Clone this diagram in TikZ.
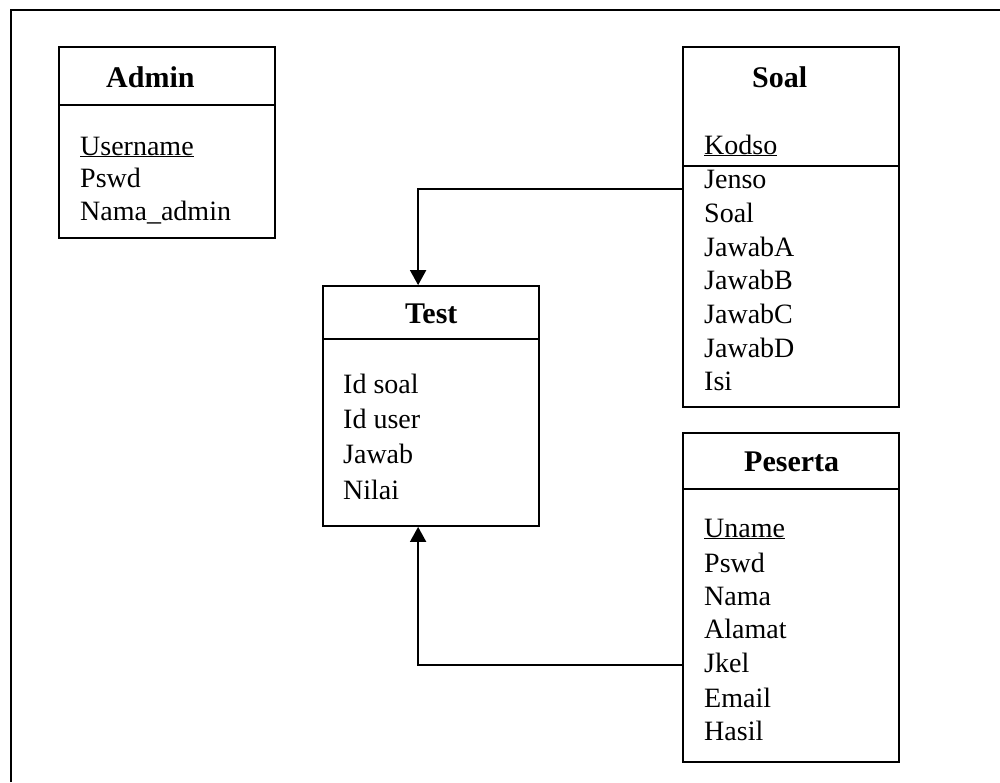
\documentclass[tikz,border=0pt]{standalone}
\usepackage{fontspec}
\setmainfont{Liberation Serif}
\usetikzlibrary{arrows.meta,calc}
\begin{document}
\begin{tikzpicture}[x=1pt,y=-1pt,
  tbl/.style={draw,line width=1.8pt,inner sep=0pt,minimum width=216pt},
  ttl/.style={anchor=base west,inner sep=0pt,font=\fontsize{30}{30}\selectfont\bfseries},
  att/.style={anchor=base west,inner sep=0pt,font=\fontsize{28}{28}\selectfont},
  link/.style={line width=1.8pt},
  arr/.style={line width=1.8pt,-{Triangle[length=15pt,width=16pt]}}]
\useasboundingbox (0,0) rectangle (1000,782);
% outer frame
\draw[line width=2pt] (11,782) -- (11,10) -- (1000,10);

% Admin
\node[tbl,minimum height=191pt] (admin) at (167,142.5) {};
\draw[link] (admin.west |- 0,105) -- (admin.east |- 0,105);
\node[ttl] (adminT) at (106,87) {Admin};
\node[att] (a1) at (80,155) {\underline{Username}};
\node[att] (a2) at (80,187) {Pswd};
\node[att] (a3) at (80,220) {Nama\_admin};

% Soal
\node[tbl,minimum height=360pt] (soal) at (791,227) {};
\draw[link] (soal.west |- 0,166) -- (soal.east |- 0,166);
\node[ttl] (soalT) at (752,87) {Soal};
\node[att] (s1) at (704,154) {\underline{Kodso}};
\node[att] (s2) at (704,188) {Jenso};
\node[att] (s3) at (704,222) {Soal};
\node[att] (s4) at (704,256) {JawabA};
\node[att] (s5) at (704,289) {JawabB};
\node[att] (s6) at (704,323) {JawabC};
\node[att] (s7) at (704,357) {JawabD};
\node[att] (s8) at (704,390) {Isi};

% Test
\node[tbl,minimum height=240pt] (test) at (431,406) {};
\draw[link] (test.west |- 0,339) -- (test.east |- 0,339);
\node[ttl] (testT) at (405,323) {Test};
\node[att] (t1) at (343,393) {Id soal};
\node[att] (t2) at (343,428) {Id user};
\node[att] (t3) at (343,463) {Jawab};
\node[att] (t4) at (343,499) {Nilai};

% Peserta
\node[tbl,minimum height=329pt] (peserta) at (791,597.5) {};
\draw[link] (peserta.west |- 0,489) -- (peserta.east |- 0,489);
\node[ttl] (pesertaT) at (744,471) {Peserta};
\node[att] (p1) at (704,537) {\underline{Uname}};
\node[att] (p2) at (704,572) {Pswd};
\node[att] (p3) at (704,605) {Nama};
\node[att] (p4) at (704,638) {Alamat};
\node[att] (p5) at (704,672) {Jkel};
\node[att] (p6) at (704,707) {Email};
\node[att] (p7) at (704,740) {Hasil};

% relations
\draw[arr] ($(soal.north west)+(0,143)$) -| ($(test.north west)+(96,0)$);
\draw[arr] ($(peserta.north west)+(0,233)$) -| ($(test.south west)+(96,0)$);
\end{tikzpicture}
\end{document}
